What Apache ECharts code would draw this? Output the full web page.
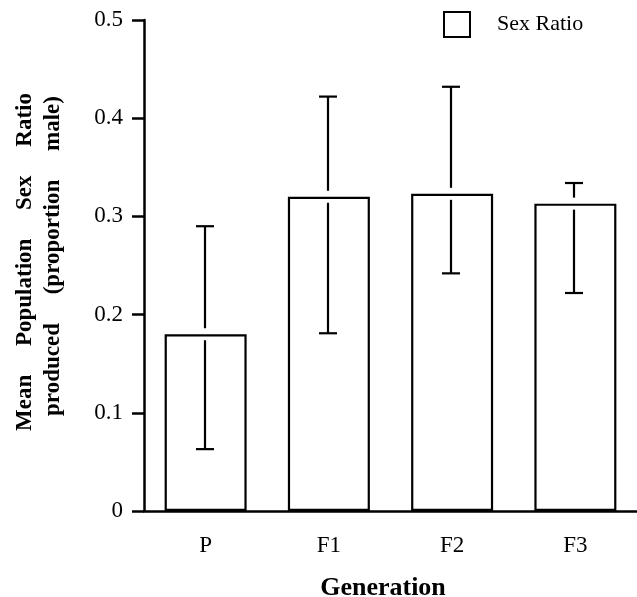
<!DOCTYPE html>
<html>
<head>
<meta charset="utf-8">
<script src="https://cdn.jsdelivr.net/npm/echarts@6/dist/echarts.min.js"></script>
<style>
  html, body { margin: 0; padding: 0; background: #fff; }
  #main { width: 637px; height: 597px; }
</style>
</head>
<body>
<div id="main"></div>
<script>
var generations = ['P', 'F1', 'F2', 'F3'];
var sexRatio = [0.18, 0.32, 0.323, 0.313];
var errLow = [0.063, 0.181, 0.242, 0.222];
var errHigh = [0.29, 0.422, 0.432, 0.334];

var serif = 'Liberation Serif';
var myChart = echarts.init(document.getElementById('main'));

var errData = generations.map(function (g, i) {
    return [i, errLow[i], errHigh[i], sexRatio[i]];
});

var option = {
    animation: false,
    backgroundColor: '#fff',
    grid: {
        left: 144,
        right: 0,
        top: 20,
        bottom: 86
    },
    legend: {
        left: 443,
        top: 11,
        padding: 0,
        icon: 'rect',
        itemWidth: 26,
        itemHeight: 25,
        data: ['Sex Ratio'],
        textStyle: {
            fontFamily: serif,
            fontSize: 22,
            color: '#000',
            padding: [0, 0, 0, 22]
        }
    },
    xAxis: {
        type: 'category',
        data: generations,
        axisLine: { lineStyle: { color: '#000', width: 2.5 } },
        axisTick: { alignWithLabel: true, length: 14, lineStyle: { color: '#000', width: 2.5 } },
        axisLabel: {
            fontFamily: serif,
            fontSize: 23,
            color: '#000',
            margin: 23
        }
    },
    yAxis: {
        type: 'value',
        min: 0,
        max: 0.5,
        interval: 0.1,
        axisLine: { show: true, lineStyle: { color: '#000', width: 2.5 } },
        axisTick: { show: true, length: 12, lineStyle: { color: '#000', width: 2.5 } },
        splitLine: { show: false },
        axisLabel: {
            fontFamily: serif,
            fontSize: 23,
            color: '#000',
            margin: 21
        }
    },
    graphic: [
        {
            type: 'text',
            x: 25,
            y: 262,
            rotation: Math.PI / 2,
            style: {
                text: 'Mean     Population     Sex     Ratio',
                fontFamily: serif,
                fontWeight: 'bold',
                fontSize: 23,
                fill: '#000',
                align: 'center',
                verticalAlign: 'middle'
            }
        },
        {
            type: 'text',
            x: 53,
            y: 256,
            rotation: Math.PI / 2,
            style: {
                text: 'produced     (proportion     male)',
                fontFamily: serif,
                fontWeight: 'bold',
                fontSize: 23,
                fill: '#000',
                align: 'center',
                verticalAlign: 'middle'
            }
        },
        {
            type: 'text',
            x: 383,
            y: 588,
            style: {
                text: 'Generation',
                fontFamily: serif,
                fontWeight: 'bold',
                fontSize: 26,
                fill: '#000',
                align: 'center',
                verticalAlign: 'middle'
            }
        }
    ],
    series: [
        {
            name: 'Sex Ratio',
            type: 'bar',
            data: sexRatio,
            barWidth: 82,
            itemStyle: {
                color: '#fff',
                borderColor: '#000',
                borderWidth: 2.2
            }
        },
        {
            name: 'err',
            type: 'custom',
            data: errData,
            z: 5,
            renderItem: function (params, api) {
                var idx = api.value(0);
                var lo = api.coord([idx, api.value(1)]);
                var hi = api.coord([idx, api.value(2)]);
                var mid = api.coord([idx, api.value(3)]);
                var x = Math.round(lo[0]) - 1;
                var cap = 9;
                var gap = 6;
                var style = { stroke: '#000', lineWidth: 2.2 };
                return {
                    type: 'group',
                    children: [
                        { type: 'line', shape: { x1: x, y1: hi[1], x2: x, y2: mid[1] - gap }, style: style },
                        { type: 'line', shape: { x1: x, y1: mid[1] + gap, x2: x, y2: lo[1] }, style: style },
                        { type: 'line', shape: { x1: x - cap, y1: hi[1], x2: x + cap, y2: hi[1] }, style: style },
                        { type: 'line', shape: { x1: x - cap, y1: lo[1], x2: x + cap, y2: lo[1] }, style: style }
                    ]
                };
            }
        }
    ]
};
myChart.setOption(option);
</script>
</body>
</html>
